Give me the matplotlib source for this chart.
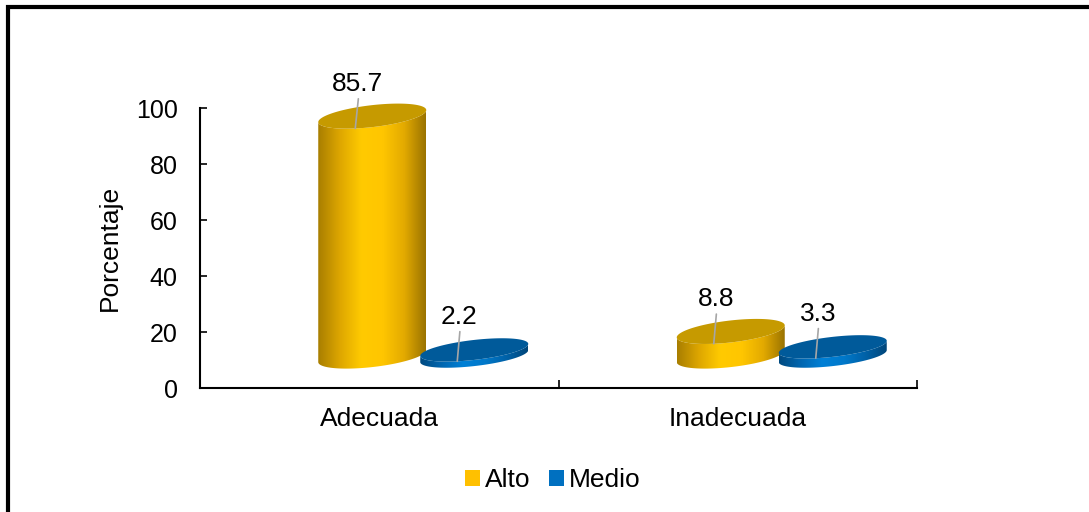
import numpy as np
import matplotlib
matplotlib.use('Agg')
import matplotlib.pyplot as plt
from matplotlib.colors import LinearSegmentedColormap
from matplotlib.patches import Polygon, Patch
from matplotlib.lines import Line2D

plt.rcParams['font.family'] = ['Liberation Sans', 'DejaVu Sans']

categorias = ['Adecuada', 'Inadecuada']
series = ['Alto', 'Medio']
alto = [85.7, 8.8]
medio = [2.2, 3.3]
valores = {'Alto': alto, 'Medio': medio}

colores = {'Alto': '#FFC000', 'Medio': '#0070C0'}
# degradado del cuerpo (izq -> der) y color de la tapa
degradado = {
    'Alto': ['#A87E00', '#DDA600', '#FFCA00', '#FFC600', '#E3AA00', '#9A7300'],
    'Medio': ['#004A80', '#0066B0', '#0080D6', '#0078CA', '#0062A8', '#00467A'],
}
tapa = {'Alto': '#C69A00', 'Medio': '#005A9A'}

fig = plt.figure(figsize=(10.89, 5.12), dpi=100)
ax = fig.add_axes([200 / 1089, 1 - 388 / 512, 717 / 1089, 280 / 512])

# tamaños en pixeles pasados a unidades de datos
ux = 2 / 717
uy = 100 / 280
base = 11.4          # el piso 3D queda levantado
a = 54 * ux          # semiancho del cilindro
s = 6 * uy           # inclinacion de las elipses
b = {'Alto': 11 * uy, 'Medio': 10 * uy}
desplaz = {'Alto': -7 * ux, 'Medio': 95 * ux}
t = np.linspace(0, 2 * np.pi, 200)
t0 = np.pi + np.arccos(17 / 54)


def elipse(cx, cy, bb, tt):
    return np.column_stack([cx + a * np.cos(tt), cy + bb * np.sin(tt) + s * np.cos(tt)])


def cilindro(cx, valor, serie, z):
    bb = b[serie]
    arriba = base + valor
    tf = np.linspace(np.pi, 2 * np.pi, 120)
    cuerpo = np.vstack([elipse(cx, base, bb, tf), elipse(cx, arriba, bb, tf[::-1])])
    cmap = LinearSegmentedColormap.from_list(serie, degradado[serie])
    g = np.linspace(0, 1, 256)[None, :]
    im = ax.imshow(g, extent=[cx - a, cx + a, base - bb - s, arriba + bb + s],
                   cmap=cmap, aspect='auto', interpolation='bilinear',
                   origin='lower', zorder=z)
    clip = Polygon(cuerpo, closed=True, transform=ax.transData)
    im.set_clip_path(clip)
    im.set_clip_box(None)
    ax.add_patch(Polygon(elipse(cx, arriba, bb, t), closed=True, facecolor=tapa[serie],
                         edgecolor='none', zorder=z + 0.1, clip_on=False))
    px, py = elipse(cx, arriba, bb, np.array([t0]))[0]
    ax.annotate(f'{valor:.1f}', xy=(px, py), xytext=(1.5, 32), textcoords='offset points',
                ha='center', va='center', fontsize=19, zorder=20,
                annotation_clip=False,
                arrowprops=dict(arrowstyle='-', color='#A6A6A6', lw=1.2,
                                relpos=(0.55, 0.5), shrinkA=0, shrinkB=0))


z = 2
for i, cat in enumerate(categorias):
    for serie in series:
        cilindro(i + desplaz[serie], valores[serie][i], serie, z)
        z += 1

ax.set_xlim(-0.5, 1.5)
ax.set_ylim(0, 100)

for lado in ['top', 'right']:
    ax.spines[lado].set_visible(False)
for lado in ['left', 'bottom']:
    ax.spines[lado].set_linewidth(1.5)
    ax.spines[lado].set_color('black')

ax.set_yticks(range(0, 101, 20))
ax.tick_params(axis='y', direction='in', length=5, width=1.2, pad=16, labelsize=18)
ax.set_xticks([0, 1])
ax.set_xticklabels(categorias)
ax.set_xticks([-0.5, 0.5, 1.5], minor=True)
ax.tick_params(axis='x', which='major', length=0, pad=14, labelsize=19)
ax.tick_params(axis='x', which='minor', direction='in', length=6, width=1.2)
ax.set_ylabel('Porcentaje', fontsize=19, labelpad=10)

manijas = [Patch(facecolor=colores[sr], edgecolor='none', label=sr) for sr in series]
fig.legend(handles=manijas, loc='center', bbox_to_anchor=(553 / 1089, 1 - 480 / 512),
           ncol=2, frameon=False, fontsize=19, handlelength=0.55, handleheight=0.55,
           handletextpad=0.2, columnspacing=0.7)

# marco del grafico
fig.add_artist(Line2D([7.5 / 1089, 7.5 / 1089, 1.02], [-0.02, 1 - 7 / 512, 1 - 7 / 512],
                      transform=fig.transFigure, color='black', lw=3,
                      solid_joinstyle='miter'))

fig.savefig('out.png', dpi=100)
